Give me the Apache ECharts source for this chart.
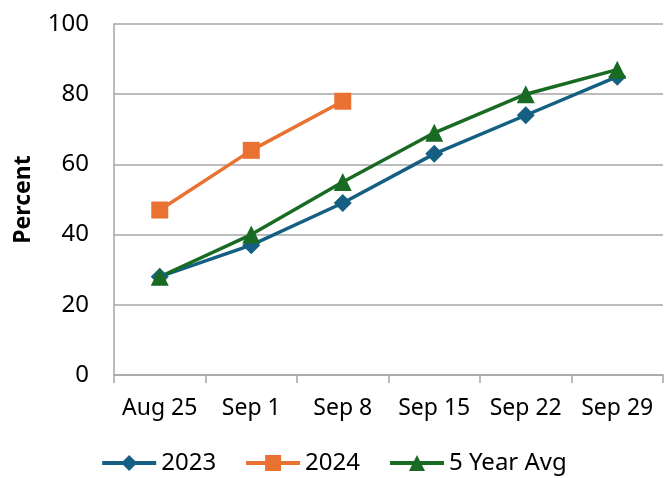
<!DOCTYPE html>
<html>
<head>
<meta charset="utf-8">
<script src="https://cdn.jsdelivr.net/npm/echarts@6/dist/echarts.min.js"></script>
<style>
  html, body { margin: 0; padding: 0; background: #fff; }
  #chart { width: 667px; height: 478px; }
</style>
</head>
<body>
<div id="chart"></div>
<script>
const weeks = ["Aug 25", "Sep 1", "Sep 8", "Sep 15", "Sep 22", "Sep 29"];
const y2023 = [28, 37, 49, 63, 74, 85];
const y2024 = [47, 64, 78, null, null, null];
const avg5 = [28, 40, 55, 69, 80, 87];

const chart = echarts.init(document.getElementById("chart"));
const font = "Noto Sans, Open Sans, sans-serif";

const option = {
  animation: false,
  textStyle: { fontFamily: font },
  legend: {
    bottom: 2,
    left: "center",
    padding: 0,
    itemWidth: 54,
    itemHeight: 20,
    itemGap: 28,
    lineStyle: { width: 4 },
    textStyle: { fontSize: 24, color: "#000", fontFamily: font, lineHeight: 26 },
    data: ["2023", "2024", "5 Year Avg"]
  },
  grid: { left: 114, right: 4, top: 24, bottom: 103 },
  xAxis: {
    type: "category",
    data: weeks,
    boundaryGap: true,
    axisLine: { lineStyle: { color: "#a6a6a6", width: 1.5 } },
    axisTick: { show: true, length: 8, lineStyle: { color: "#a6a6a6", width: 1.5 } },
    axisLabel: { fontSize: 23, color: "#000", margin: 22, interval: 0 },
    splitLine: { show: false }
  },
  yAxis: {
    type: "value",
    min: 0,
    max: 100,
    interval: 20,
    name: "Percent",
    nameLocation: "middle",
    nameGap: 79,
    nameTextStyle: { fontSize: 23, fontWeight: "bold", color: "#000" },
    axisLine: { show: true, lineStyle: { color: "#a6a6a6", width: 1.5 } },
    axisTick: { show: false },
    axisLabel: { fontSize: 24, color: "#000", margin: 25 },
    splitLine: { lineStyle: { color: "#a6a6a6", width: 1.5 } }
  },
  series: [
    {
      name: "2023",
      type: "line",
      data: y2023,
      symbol: "diamond",
      symbolSize: 18,
      color: "#156082",
      lineStyle: { width: 3.5 }
    },
    {
      name: "2024",
      type: "line",
      data: y2024,
      symbol: "rect",
      symbolSize: 17,
      color: "#E97132",
      lineStyle: { width: 3.5 }
    },
    {
      name: "5 Year Avg",
      type: "line",
      data: avg5,
      symbol: "triangle",
      symbolSize: 18,
      color: "#196B24",
      lineStyle: { width: 3.5 }
    }
  ]
};
chart.setOption(option);
</script>
</body>
</html>
